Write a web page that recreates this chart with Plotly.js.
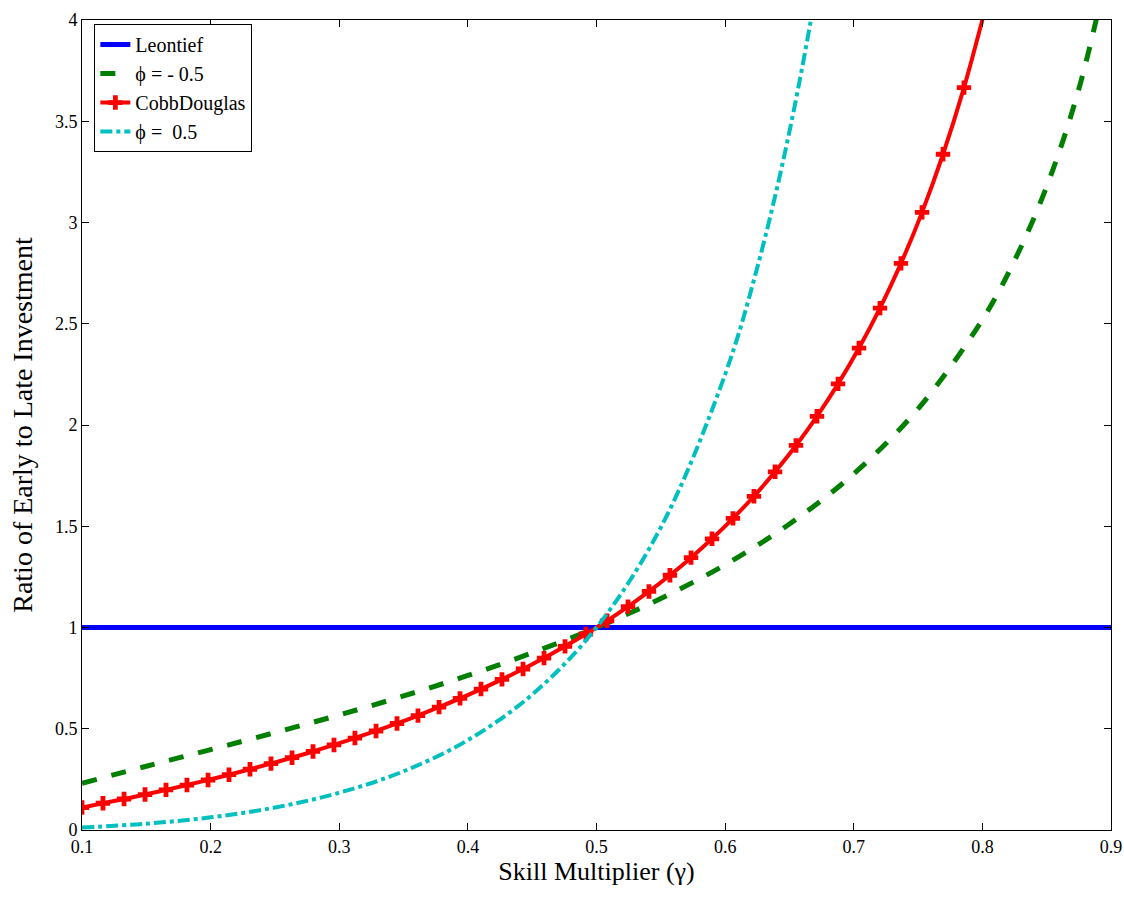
<!DOCTYPE html>
<html>
<head>
<meta charset="utf-8">
<script src="https://cdn.plot.ly/plotly-3.0.1.min.js"></script>
<style>body{margin:0;background:#fff}</style>
</head>
<body>
<div id="chart" style="width:1124px;height:898px"></div>
<script>
// values
var leonX = [0.1, 0.9];
var leonY = [1, 1];

var negX = [0.1, 0.15, 0.2, 0.25, 0.3, 0.35, 0.4, 0.45, 0.5, 0.55, 0.6, 0.65, 0.7, 0.75, 0.8, 0.825, 0.85, 0.875, 0.9];
var negY = [0.231, 0.315, 0.397, 0.481, 0.568, 0.662, 0.763, 0.875, 1, 1.143, 1.31, 1.511, 1.759, 2.08, 2.52, 2.812, 3.178, 3.659, 4.327];

var cdX = [0.1, 0.1163, 0.1327, 0.149, 0.1653, 0.1816, 0.198, 0.2143, 0.2306, 0.2469, 0.2633, 0.2796, 0.2959, 0.3122,
  0.3286, 0.3449, 0.3612, 0.3776, 0.3939, 0.4102, 0.4265, 0.4429, 0.4592, 0.4755, 0.4918, 0.5082, 0.5245, 0.5408,
  0.5571, 0.5735, 0.5898, 0.6061, 0.6224, 0.6388, 0.6551, 0.6714, 0.6878, 0.7041, 0.7204, 0.7367, 0.7531, 0.7694,
  0.7857, 0.802];
var cdY = [0.111, 0.132, 0.153, 0.175, 0.198, 0.222, 0.247, 0.273, 0.3, 0.328, 0.357, 0.388, 0.42, 0.454,
  0.489, 0.526, 0.565, 0.607, 0.65, 0.696, 0.744, 0.795, 0.849, 0.907, 0.968, 1.033, 1.103, 1.178,
  1.258, 1.345, 1.438, 1.539, 1.648, 1.769, 1.899, 2.043, 2.203, 2.38, 2.577, 2.798, 3.05, 3.337,
  3.666, 4.05];

var posX = [0.1, 0.15, 0.2, 0.25, 0.3, 0.35, 0.4, 0.45, 0.5, 0.55, 0.6, 0.625, 0.65, 0.675, 0.7];
var posY = [0.0123, 0.0311, 0.0625, 0.111, 0.184, 0.29, 0.444, 0.669, 1, 1.494, 2.25, 2.778, 3.449, 4.314, 5.44];

var data = [
  {x: leonX, y: leonY, name: 'Leontief', mode: 'lines', line: {color: '#0000ff', width: 5}},
  {x: negX, y: negY, name: '\u03d5 = - 0.5', mode: 'lines', line: {color: '#007f00', width: 5, dash: 'dash', shape: 'spline'}},
  {x: cdX, y: cdY, name: 'CobbDouglas', mode: 'lines+markers', line: {color: '#ff0000', width: 4, shape: 'spline'},
    marker: {symbol: 'cross', size: 12, color: '#ff0000'}},
  {x: posX, y: posY, name: '\u03d5 =  0.5', mode: 'lines', line: {color: '#00bfbf', width: 4, dash: 'dashdot', shape: 'spline'}}
];

var axisStyle = {
  showgrid: false, zeroline: false, showline: true, mirror: 'ticks', linecolor: '#000', linewidth: 1,
  ticks: 'inside', ticklen: 7, tickcolor: '#000', tickfont: {size: 18, color: '#000'}
};

var layout = {
  width: 1124, height: 898,
  margin: {l: 82, r: 13, t: 20, b: 68},
  font: {family: 'Liberation Serif, serif', color: '#000'},
  paper_bgcolor: '#fff', plot_bgcolor: '#fff',
  xaxis: Object.assign({}, axisStyle, {range: [0.1, 0.9], dtick: 0.1, tickformat: '.1f',
    title: {text: 'Skill Multiplier (\u03b3)', font: {size: 26}, standoff: 6}}),
  yaxis: Object.assign({}, axisStyle, {range: [0, 4], dtick: 0.5,
    title: {text: 'Ratio of Early to Late Investment', font: {size: 28}, standoff: 14}}),
  legend: {x: 0.012, y: 0.995, xanchor: 'left', yanchor: 'top', bordercolor: '#000', borderwidth: 1,
    bgcolor: '#fff', font: {size: 20}, tracegroupgap: 0, itemwidth: 30},
  showlegend: true
};

Plotly.newPlot('chart', data, layout, {displayModeBar: false});
</script>
</body>
</html>
